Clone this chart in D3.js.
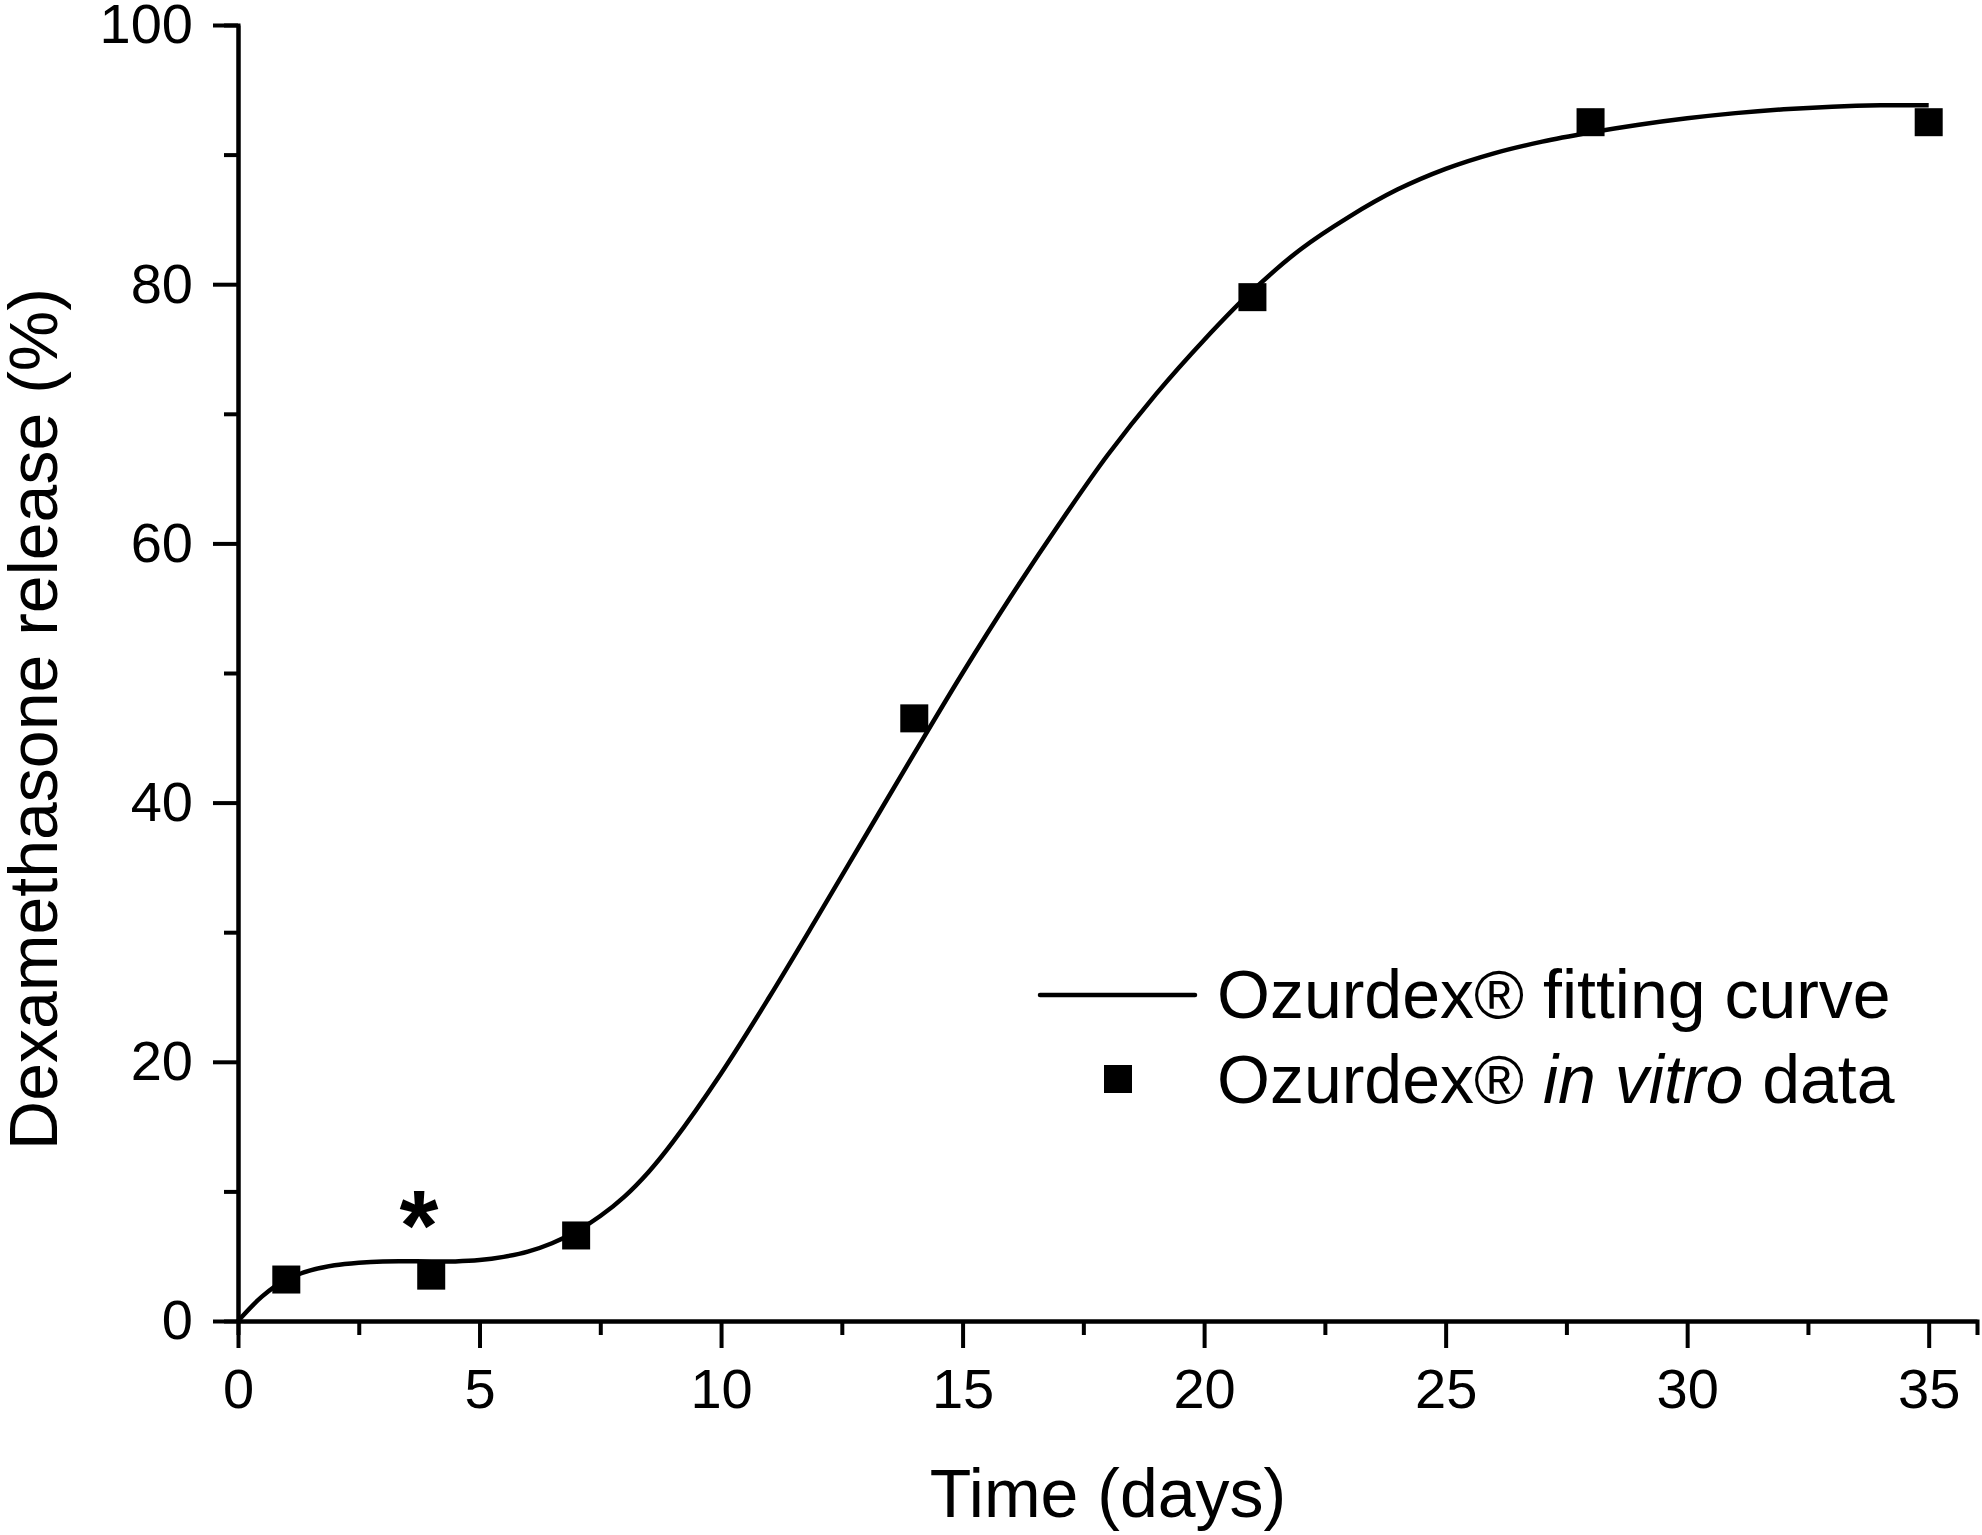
<!DOCTYPE html>
<html>
<head>
<meta charset="utf-8">
<script src="https://cdn.jsdelivr.net/npm/d3@7"></script>
<style>
  body { margin: 0; background: #fff; }
  svg text { font-family: "Liberation Sans", Arial, sans-serif; fill: #000; }
</style>
</head>
<body>
<div id="chart"></div>
<script>
// measured release (%) at each sampling day
var sampleDays = [1, 4, 7, 14, 21, 28, 35];
var sampleRelease = [3.2, 3.5, 6.6, 46.5, 79.0, 92.5, 92.5];

// fitting curve
var fitDays = [0, 0.5, 1, 1.5, 2, 2.5, 3, 4, 4.5, 5, 5.5, 6, 6.5, 7, 7.5, 8, 8.5, 9, 10, 11, 12, 13, 14,
  15, 16, 17, 18, 19, 20, 21, 22, 23, 24, 25, 26, 27, 28, 29, 30, 31, 32, 33, 34, 35];
var fitRelease = [0, 1.9, 3.2, 3.9, 4.3, 4.5, 4.6, 4.6, 4.6, 4.7, 4.95, 5.35, 6.0, 6.9, 8.1, 9.6, 11.5, 13.8,
  19.1, 25.0, 31.2, 37.5, 43.8, 50.0, 55.9, 61.5, 66.8, 71.5, 75.7, 79.5, 82.7, 85.2, 87.3,
  88.9, 90.1, 91.0, 91.7, 92.3, 92.8, 93.2, 93.5, 93.7, 93.8, 93.8];

var xMajor = [0, 5, 10, 15, 20, 25, 30, 35];
var xMinor = [2.5, 7.5, 12.5, 17.5, 22.5, 27.5, 32.5];
var yMajor = [0, 20, 40, 60, 80, 100];
var yMinor = [10, 30, 50, 70, 90];

var legendLabels = ["Ozurdex\u00ae fitting curve", "Ozurdex\u00ae ", "in vitro", " data"];

var W = 1982, H = 1535;

var x = d3.scaleLinear().domain([0, 36]).range([238, 1977]);
var y = d3.scaleLinear().domain([0, 100]).range([1321, 25]);

var svg = d3.select("#chart").append("svg")
  .attr("width", W)
  .attr("height", H);

svg.append("rect").attr("width", W).attr("height", H).attr("fill", "#fff");

function styleAxis(g) {
  g.select(".domain").attr("stroke", "#000").attr("stroke-width", 4);
  g.selectAll(".tick line").attr("stroke", "#000").attr("stroke-width", 4);
  g.selectAll(".tick text").style("font-size", "56px");
}

// minor ticks first so the major axis sits on top
svg.append("g")
  .attr("transform", "translate(0," + y(0) + ")")
  .call(d3.axisBottom(x).tickValues(xMinor).tickSize(14).tickFormat(""))
  .call(styleAxis);

svg.append("g")
  .attr("transform", "translate(" + x(0) + ",0)")
  .call(d3.axisLeft(y).tickValues(yMinor).tickSize(14).tickFormat(""))
  .call(styleAxis);

svg.append("g")
  .attr("class", "x-axis")
  .attr("transform", "translate(0," + y(0) + ")")
  .call(d3.axisBottom(x).tickValues(xMajor).tickSize(27).tickSizeOuter(0).tickPadding(20))
  .call(styleAxis);

svg.append("g")
  .attr("class", "y-axis")
  .attr("transform", "translate(" + x(0) + ",0)")
  .call(d3.axisLeft(y).tickValues(yMajor).tickSize(25).tickSizeOuter(0).tickPadding(20))
  .call(styleAxis);

// axis titles
svg.append("text")
  .attr("x", 1108)
  .attr("y", 1517)
  .attr("text-anchor", "middle")
  .style("font-size", "68px")
  .text("Time (days)");

svg.append("text")
  .attr("transform", "translate(57," + 719 + ") rotate(-90)")
  .attr("text-anchor", "middle")
  .style("font-size", "68px")
  .text("Dexamethasone release (%)");

// fitting curve
var fitData = fitDays.map(function (d, i) {
  return { day: d, value: fitRelease[i] };
});

var valueline = d3.line()
  .x(function (d) { return x(d.day); })
  .y(function (d) { return y(d.value); })
  .curve(d3.curveCatmullRom.alpha(0.5));

svg.append("path")
  .datum(fitData)
  .attr("fill", "none")
  .attr("stroke", "#000")
  .attr("stroke-width", 4.5)
  .attr("stroke-linejoin", "round")
  .attr("d", valueline);

// in vitro data points
var pts = sampleDays.map(function (d, i) {
  return { day: d, value: sampleRelease[i] };
});
var sq = 28;
svg.selectAll(".dot")
  .data(pts)
  .enter()
  .append("rect")
  .attr("class", "dot")
  .attr("x", function (d) { return x(d.day) - sq / 2; })
  .attr("y", function (d) { return y(d.value) - sq / 2; })
  .attr("width", sq)
  .attr("height", sq)
  .attr("fill", "#000");

// significance mark over day 4
svg.append("text")
  .attr("x", 419)
  .attr("y", 1260)
  .attr("text-anchor", "middle")
  .style("font-size", "100px")
  .style("font-weight", "bold")
  .text("*");

// legend
var legend = svg.append("g").attr("class", "legend");

legend.append("line")
  .attr("x1", 1040).attr("x2", 1195)
  .attr("y1", 995).attr("y2", 995)
  .attr("stroke", "#000")
  .attr("stroke-width", 4.5)
  .attr("stroke-linecap", "round");

legend.append("text")
  .attr("x", 1217)
  .attr("y", 1018)
  .style("font-size", "68px")
  .text(legendLabels[0]);

legend.append("rect")
  .attr("x", 1118 - sq / 2)
  .attr("y", 1079 - sq / 2)
  .attr("width", sq)
  .attr("height", sq)
  .attr("fill", "#000");

var t2 = legend.append("text")
  .attr("x", 1217)
  .attr("y", 1103)
  .style("font-size", "68px");
t2.append("tspan").text(legendLabels[1]);
t2.append("tspan").style("font-style", "italic").text(legendLabels[2]);
t2.append("tspan").text(legendLabels[3]);
</script>
</body>
</html>
